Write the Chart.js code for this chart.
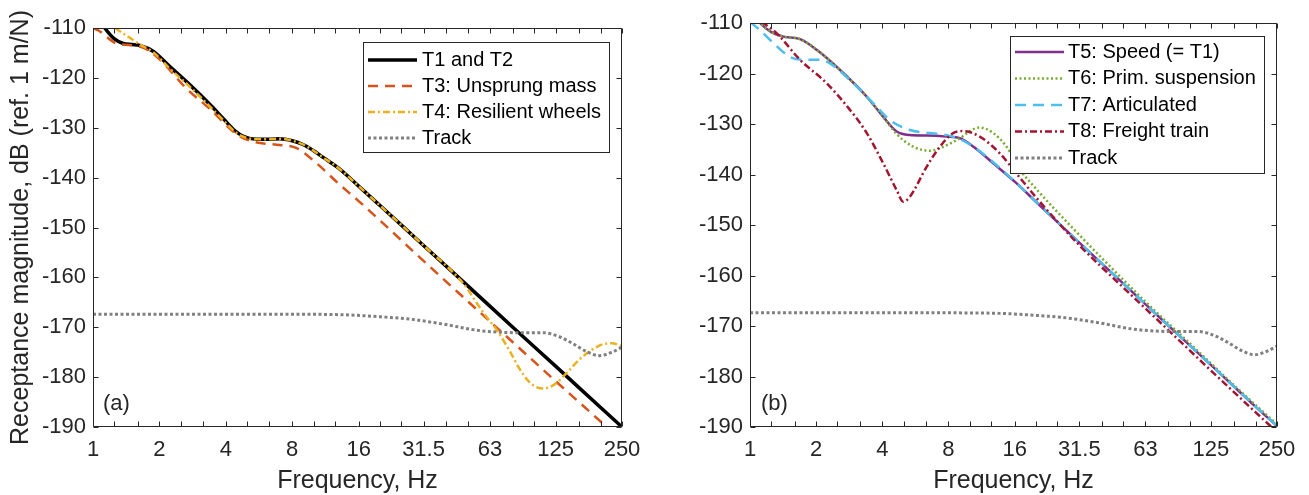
<!DOCTYPE html>
<html>
<head>
<meta charset="utf-8">
<script src="https://cdn.jsdelivr.net/npm/chart.js@4.4.1/dist/chart.umd.min.js"></script>
<style>
  html, body { margin: 0; padding: 0; background: #fff; }
  #wrap { position: relative; width: 1309px; height: 495px; }
  canvas { position: absolute; top: 0; }
  #chartA { left: 0; }
  #chartB { left: 654px; }
</style>
</head>
<body>
<div id="wrap">
  <canvas id="chartA" width="654" height="495"></canvas>
  <canvas id="chartB" width="655" height="495"></canvas>
</div>
<script>
"use strict";

// x axis: third-octave ticks, labels only on octaves
const freqTicks = [1, 1.25, 1.6, 2, 2.5, 3.15, 4, 5, 6.3, 8, 10, 12.5, 16, 20, 25, 31.5, 40, 50, 63, 80, 100, 125, 160, 200, 250];
const freqTickLabels = ["1", "", "", "2", "", "", "4", "", "", "8", "", "", "16", "", "", "31.5", "", "", "63", "", "", "125", "", "", "250"];

// panel (a)
const t1Freq = [1, 1.13, 1.25, 1.37, 1.5, 1.63, 1.88, 2.2, 2.75, 3.4, 3.9, 4.4, 4.8, 5.5, 6.3, 7.0, 8.0, 9.0, 10, 11, 12.9, 16, 20, 31.5, 50, 80, 125, 200, 250];
const t1Level = [-106.5, -110, -112.2, -113.1, -113.3, -113.5, -114.7, -117.5, -121.4, -125.4, -128.2, -130.6, -131.7, -132.3, -132.3, -132.2, -132.6, -133.4, -134.6, -135.9, -138.0, -141.7, -145.6, -153.6, -161.7, -170.0, -177.8, -186.1, -190.0];

const t3Freq = [1, 1.06, 1.28, 1.63, 1.94, 2.66, 3.4, 4.48, 5.33, 6.8, 8.38, 10.3, 12.9, 16, 20, 31.5, 50, 80, 125, 200, 250];
const t3Level = [-110.0, -110.5, -113.1, -113.7, -115.7, -122.2, -126.3, -131.3, -132.8, -133.4, -134.1, -137.1, -141.1, -144.7, -148.6, -156.7, -164.8, -173.0, -180.8, -188.9, -192.8];

const t4Freq = [1, 1.1, 1.26, 1.45, 1.63, 1.88, 2.2, 2.75, 3.4, 3.9, 4.4, 4.8, 5.5, 6.3, 7.0, 8.0, 9.0, 10, 11, 12.9, 16, 20, 31.5, 46, 50, 55, 61, 67.6, 77.7, 86, 96, 110, 126, 140, 160, 180, 205, 225, 250];
const t4Level = [-106.0, -108.0, -110.0, -111.8, -113.3, -114.9, -117.9, -121.8, -125.8, -128.5, -130.8, -131.8, -132.3, -132.3, -132.2, -132.6, -133.4, -134.6, -135.9, -138.0, -141.7, -145.6, -153.6, -160.4, -162.4, -165.2, -168.0, -170.5, -174.9, -178.4, -181.2, -182.3, -181.2, -179.2, -176.5, -174.7, -173.4, -173.2, -173.8];

// track receptance (same in both panels)
const trackFreq = [1, 4, 8, 13.7, 20, 27.6, 39, 55, 70, 90, 110, 130, 150, 175, 198, 225, 250];
const trackLevel = [-167.4, -167.4, -167.4, -167.5, -167.9, -168.4, -169.4, -170.6, -171.0, -171.1, -171.1, -171.9, -173.3, -175.0, -175.7, -175.0, -174.0];

// panel (b)
const t5Freq = [1, 1.11, 1.25, 1.42, 1.69, 2.01, 2.57, 3.4, 4.04, 4.65, 5.34, 6.36, 7.85, 9.02, 10.4, 12.8, 16.3, 20, 31.5, 50, 80, 125, 200, 250];
const t5Level = [-107.5, -110.0, -111.8, -112.7, -113.2, -115.3, -119.3, -124.6, -128.6, -131.5, -132.2, -132.3, -132.5, -132.8, -134.5, -137.8, -141.7, -145.4, -153.5, -161.6, -169.9, -177.7, -186.0, -189.8];

const t6Freq = [1, 1.11, 1.25, 1.42, 1.69, 2.01, 2.57, 3.4, 4.04, 4.65, 5.53, 6.59, 7.31, 8.71, 11.1, 12.8, 14.7, 16.9, 20, 28.5, 40, 63, 100, 160, 250];
const t6Level = [-107.5, -110.0, -111.8, -112.7, -113.2, -115.3, -119.3, -124.6, -128.6, -132.0, -134.5, -135.3, -134.8, -133.2, -130.7, -131.8, -134.5, -139.0, -142.8, -150.0, -156.6, -165.2, -173.4, -181.8, -189.5];

const t7Freq = [1, 1.11, 1.28, 1.52, 1.75, 2.08, 2.31, 2.85, 3.64, 4.33, 5.34, 6.59, 7.85, 9.0, 10.4, 13.7, 16.3, 20, 31.5, 50, 80, 125, 200, 250];
const t7Level = [-109.8, -111.4, -114.0, -116.7, -117.3, -117.3, -118.0, -121.3, -125.9, -129.2, -131.2, -131.8, -132.2, -133.0, -134.5, -138.7, -141.7, -145.4, -153.5, -161.6, -169.9, -177.7, -186.0, -189.8];

const t8Freq = [1, 1.15, 1.32, 1.69, 2.23, 2.85, 3.4, 4.04, 4.65, 4.98, 5.34, 6.36, 7.31, 8.4, 9.36, 11.1, 13.7, 16.3, 20, 31.5, 50, 80, 125, 200, 250];
const t8Level = [-108.0, -110.0, -112.0, -117.3, -121.9, -127.2, -131.8, -137.8, -143.1, -145.4, -144.4, -138.5, -134.5, -131.8, -131.4, -132.5, -135.8, -139.8, -144.5, -154.0, -162.4, -170.8, -178.8, -187.1, -191.0];

const FONT = "'Liberation Sans', Arial, sans-serif";
const AXIS_COLOR = "#262626";

function points(freqs, levels) {
  return freqs.map((f, i) => ({ x: f, y: levels[i] }));
}

function series(label, freqs, levels, color, width, dash, order) {
  return {
    label,
    data: points(freqs, levels),
    borderColor: color,
    borderWidth: width,
    borderDash: dash,
    pointRadius: 0,
    cubicInterpolationMode: "monotone",
    fill: false,
    clip: 0,
    order
  };
}

// box with inward ticks on all four sides, like the original axes
const matlabFrame = {
  id: "matlabFrame",
  afterDatasetsDraw(chart, args, opts) {
    const { ctx, chartArea: a, scales } = chart;
    const L = Math.round(a.left) + 0.5;
    const R = Math.round(a.right) - 0.5;
    const T = Math.round(a.top) + 0.5;
    const B = Math.round(a.bottom) - 0.5;
    const len = opts.len;
    ctx.save();
    ctx.strokeStyle = AXIS_COLOR;
    ctx.lineWidth = 1;
    ctx.beginPath();
    scales.x.ticks.forEach((t) => {
      const px = Math.round(scales.x.getPixelForValue(t.value)) + 0.5;
      ctx.moveTo(px, B); ctx.lineTo(px, B - len);
      ctx.moveTo(px, T); ctx.lineTo(px, T + len);
    });
    scales.y.ticks.forEach((t) => {
      const py = Math.round(scales.y.getPixelForValue(t.value)) + 0.5;
      ctx.moveTo(L, py); ctx.lineTo(L + len, py);
      ctx.moveTo(R, py); ctx.lineTo(R - len, py);
    });
    ctx.rect(L, T, R - L, B - T);
    ctx.stroke();
    ctx.restore();
  }
};

// legend box sitting inside the plot area, plus the panel tag
const insideLegend = {
  id: "insideLegend",
  afterDraw(chart, args, opts) {
    const ctx = chart.ctx;
    ctx.save();
    ctx.fillStyle = "#fff";
    ctx.fillRect(opts.x, opts.y, opts.w, opts.h);
    ctx.strokeStyle = AXIS_COLOR;
    ctx.lineWidth = 1;
    ctx.strokeRect(opts.x + 0.5, opts.y + 0.5, opts.w, opts.h);
    ctx.font = "20px " + FONT;
    ctx.textBaseline = "middle";
    ctx.textAlign = "left";
    chart.data.datasets.forEach((ds, i) => {
      const yy = opts.y + opts.firstRow + i * opts.rowGap;
      ctx.beginPath();
      ctx.setLineDash(ds.borderDash || []);
      ctx.strokeStyle = ds.borderColor;
      ctx.lineWidth = ds.borderWidth;
      ctx.moveTo(opts.x + opts.lineFrom, yy);
      ctx.lineTo(opts.x + opts.lineTo, yy);
      ctx.stroke();
      ctx.setLineDash([]);
      ctx.fillStyle = "#000";
      ctx.fillText(ds.label, opts.x + opts.textAt, yy);
    });
    ctx.font = "22px " + FONT;
    ctx.fillStyle = AXIS_COLOR;
    ctx.fillText(opts.tag, opts.tagX, opts.tagY);
    ctx.restore();
  }
};

function makePanel(canvasId, datasets, cfg) {
  return new Chart(document.getElementById(canvasId), {
    type: "line",
    data: { datasets },
    options: {
      responsive: false,
      animation: false,
      devicePixelRatio: 1,
      layout: { padding: { left: 0, right: cfg.padRight, top: cfg.padTop, bottom: 0 } },
      plugins: {
        legend: { display: false },
        tooltip: { enabled: false },
        matlabFrame: { len: 5 },
        insideLegend: cfg.legend
      },
      scales: {
        x: {
          type: "logarithmic",
          min: 1,
          max: 250,
          grid: { display: false, drawTicks: false },
          border: { display: false },
          afterBuildTicks: (scale) => {
            scale.ticks = freqTicks.map((v) => ({ value: v }));
          },
          afterFit: (scale) => { scale.height = 68; },
          ticks: {
            autoSkip: false,
            maxRotation: 0,
            padding: 10,
            color: AXIS_COLOR,
            font: { family: FONT, size: 22 },
            callback: (value, index) => freqTickLabels[index]
          },
          title: {
            display: true,
            text: "Frequency, Hz",
            color: AXIS_COLOR,
            font: { family: FONT, size: 25, lineHeight: 1 },
            padding: { top: 0, bottom: 1.5 }
          }
        },
        y: {
          min: -190,
          max: -110,
          grid: { display: false, drawTicks: false },
          border: { display: false },
          afterFit: (scale) => { scale.width = cfg.yWidth; },
          ticks: {
            stepSize: 10,
            padding: 7,
            color: AXIS_COLOR,
            font: { family: FONT, size: 22 }
          },
          title: {
            display: cfg.yTitle,
            text: "Receptance magnitude, dB (ref. 1 m/N)",
            color: AXIS_COLOR,
            font: { family: FONT, size: 25, lineHeight: 1 },
            padding: { top: 8.5, bottom: 0 }
          }
        }
      }
    },
    plugins: [matlabFrame, insideLegend]
  });
}

makePanel("chartA", [
  series("T1 and T2", t1Freq, t1Level, "#000000", 3.5, [], 4),
  series("T3: Unsprung mass", t3Freq, t3Level, "#D95319", 2.5, [10, 7], 3),
  series("T4: Resilient wheels", t4Freq, t4Level, "#EDB120", 2.5, [7, 3, 2, 3], 2),
  series("Track", trackFreq, trackLevel, "#808080", 3, [3, 2.5], 1)
], {
  padRight: 32, padTop: 28, yWidth: 93, yTitle: true,
  legend: { x: 363, y: 42, w: 246, h: 110, firstRow: 18, rowGap: 26, lineFrom: 5, lineTo: 54, textAt: 59, tag: "(a)", tagX: 103, tagY: 404 }
});

makePanel("chartB", [
  series("T5: Speed (= T1)", t5Freq, t5Level, "#7E2F8E", 2.5, [], 5),
  series("T6: Prim. suspension", t6Freq, t6Level, "#77AC30", 2.5, [2, 2.5], 4),
  series("T7: Articulated", t7Freq, t7Level, "#4DBEEE", 2.5, [11, 7], 3),
  series("T8: Freight train", t8Freq, t8Level, "#A2142F", 2.5, [7, 3, 2, 3], 2),
  series("Track", trackFreq, trackLevel, "#808080", 3, [3, 2.5], 1)
], {
  padRight: 32, padTop: 23, yWidth: 96, yTitle: false,
  legend: { x: 356, y: 36, w: 254, h: 137, firstRow: 16, rowGap: 26.5, lineFrom: 5, lineTo: 54, textAt: 58, tag: "(b)", tagX: 107, tagY: 404 }
});
</script>
</body>
</html>
